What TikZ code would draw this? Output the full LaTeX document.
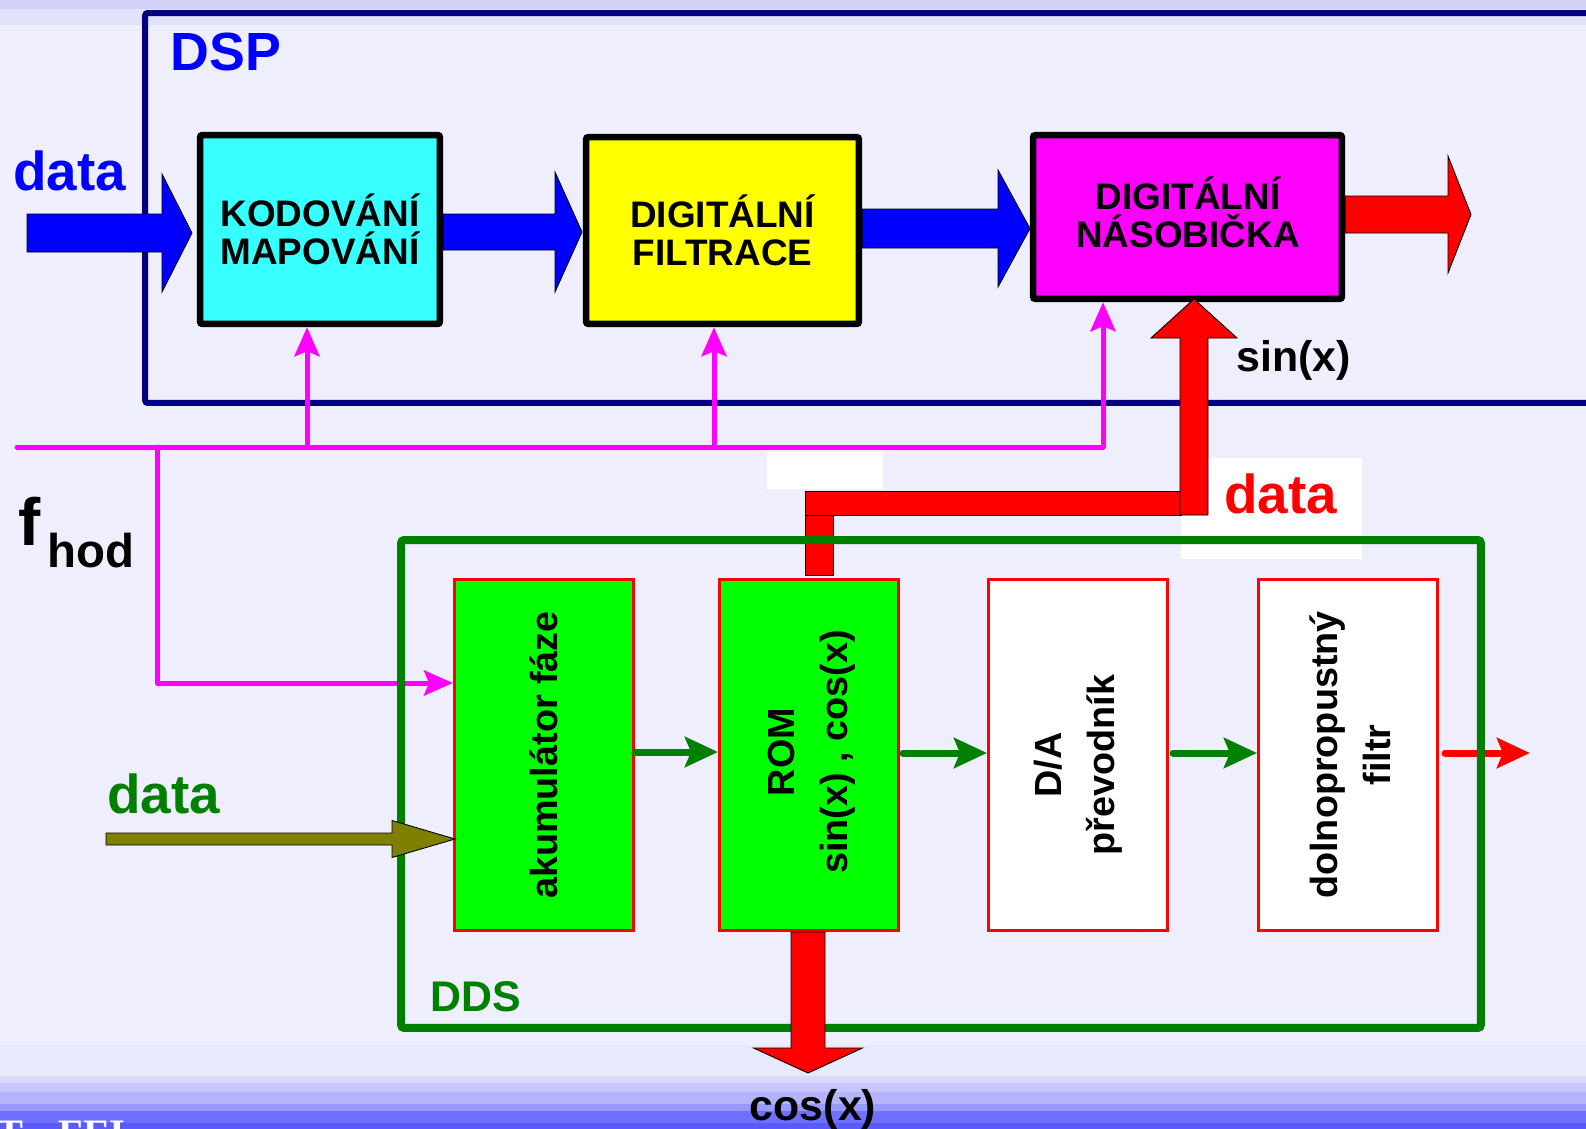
\documentclass[tikz,border=0pt]{standalone}
\usepackage{fontspec}
\setmainfont{Liberation Sans}
\newfontfamily\footserif{Liberation Serif}
\usetikzlibrary{arrows.meta,calc}
\definecolor{bgc}{HTML}{EEEEFC}
\definecolor{navyc}{HTML}{000080}
\definecolor{ddsgreen}{HTML}{008000}
\definecolor{cyanc}{HTML}{38FFFF}
\definecolor{limec}{HTML}{00FF00}
\definecolor{olivec}{HTML}{808000}
\definecolor{magc}{HTML}{FF00FF}
\definecolor{yelc}{HTML}{FFFF00}
\definecolor{redc}{HTML}{FF0000}
\definecolor{bluec}{HTML}{0000FF}
\newcommand\myfs[2]{\fontsize{#1pt}{#2pt}\selectfont}
% horizontal block arrow: start, tip, half shaft, half head, head length
\newcommand\harrow[5]{($(#1)+(0,-#3)$) -- ($(#2)+(-#5,-#3)$) -- ($(#2)+(-#5,-#4)$) -- (#2) -- ($(#2)+(-#5,#4)$) -- ($(#2)+(-#5,#3)$) -- ($(#1)+(0,#3)$) -- cycle}
% vertical block arrow: start, tip, half shaft, half head, signed head length
\newcommand\varrow[5]{($(#1)+(-#3,0)$) -- ($(#2)+(-#3,#5)$) -- ($(#2)+(-#4,#5)$) -- (#2) -- ($(#2)+(#4,#5)$) -- ($(#2)+(#3,#5)$) -- ($(#1)+(#3,0)$) -- cycle}
\tikzset{
  bigbox/.style={draw=black, line width=0.13cm, rounded corners=0.05cm, inner sep=0},
  ddsbox/.style={draw=redc, line width=0.06cm, inner sep=0, minimum width=3.58cm, minimum height=7.02cm},
  blockarr/.style={draw=black, line width=0.5pt},
  garrow/.style={draw=ddsgreen, line width=0.14cm, line cap=round, -{Stealth[length=0.66cm,width=0.6cm,inset=0.12cm]}},
  rarrow/.style={draw=redc, line width=0.14cm, line cap=round, -{Stealth[length=0.66cm,width=0.6cm,inset=0.12cm]}},
  clk/.style={draw=magc, line width=0.1cm, line cap=round, line join=round},
  clkarrow/.style={clk, -{Stealth[length=0.58cm,width=0.5cm,inset=0.1cm]}},
  lbl/.style={inner sep=0, anchor=base west, font=\bfseries\myfs{31.2}{36}},
  boxtext/.style={inner sep=0, align=center, font=\bfseries\myfs{21}{21.5}},
  rottext/.style={inner sep=0, align=center, rotate=90, font=\bfseries\myfs{21.5}{30}},
}
\begin{document}
\begin{tikzpicture}[x=0.02cm,y=-0.02cm]
\useasboundingbox (0,0) rectangle (1586,1129);
% background
\fill[bgc] (0,0) rectangle (1586,1129);
\fill[color={rgb,255:red,210;green,210;blue,248}] (0,0) rectangle (1586,9);
\fill[color={rgb,255:red,226;green,226;blue,250}] (0,9) rectangle (1586,25);
\fill[color={rgb,255:red,233;green,233;blue,252}] (0,1045) rectangle (1586,1076);
\fill[color={rgb,255:red,217;green,217;blue,252}] (0,1076) rectangle (1586,1083);
\fill[color={rgb,255:red,198;green,198;blue,252}] (0,1083) rectangle (1586,1092);
\fill[color={rgb,255:red,180;green,180;blue,252}] (0,1092) rectangle (1586,1104);
\fill[color={rgb,255:red,153;green,153;blue,255}] (0,1104) rectangle (1586,1111);
\fill[color={rgb,255:red,112;green,112;blue,255}] (0,1111) rectangle (1586,1123);
\fill[color={rgb,255:red,90;green,90;blue,255}] (0,1123) rectangle (1586,1129);
\node[inner sep=0, anchor=base west, text=white, font=\footserif\bfseries\myfs{23}{26}] (footT) at (-4,1147) {T};
\node[inner sep=0, anchor=base west, text=white, font=\footserif\bfseries\myfs{23}{26}] (footF) at (58,1147) {FEI};

% white patches
\fill[white] (767,452) rectangle (883,489);
\fill[white] (1181,458) rectangle (1362,559);

% DSP frame
\node[draw=navyc, line width=0.12cm, rounded corners=0.05cm, inner sep=0, minimum width=29.1cm, minimum height=7.8cm] (dsp) at (872.5,208) {};
\node[lbl, text=bluec, font=\bfseries\myfs{30.6}{34}] (dsplbl) at (170,71) {DSP};

% DSP blocks
\node[bigbox, fill=cyanc, minimum width=4.8cm, minimum height=3.78cm] (kod) at (320,229.5) {};
\node[bigbox, fill=yelc, minimum width=5.46cm, minimum height=3.74cm] (fil) at (722.5,230.5) {};
\node[bigbox, fill=magc, minimum width=6.18cm, minimum height=3.28cm] (nas) at (1187.5,217) {};
\node[boxtext] (kodt) at (kod.center) {KODOVÁNÍ\\MAPOVÁNÍ};
\node[boxtext] (filt) at (fil.center) {DIGITÁLNÍ\\FILTRACE};
\node[boxtext] (nast) at (1188,212) {DIGITÁLNÍ\\NÁSOBIČKA};

% blue block arrows
\coordinate (a1s) at (27,233);   \coordinate (a1t) at (192,233);
\coordinate (a2s) at (kod.east |- 0,232); \coordinate (a2t) at (582,232);
\coordinate (a3s) at (fil.east |- 0,228.5); \coordinate (a3t) at (1030,228.5);
\coordinate (a4s) at (nas.east |- 0,214.5); \coordinate (a4t) at (1471,214.5);
\filldraw[blockarr, fill=bluec] \harrow{a1s}{a1t}{19}{59}{30};
\filldraw[blockarr, fill=bluec] \harrow{a2s}{a2t}{18}{60}{27};
\filldraw[blockarr, fill=bluec] \harrow{a3s}{a3t}{19.5}{58.5}{32};
\filldraw[blockarr, fill=redc] \harrow{a4s}{a4t}{18.5}{58.5}{23};
\node[lbl, text=bluec] (datab) at (13,190) {data};

% clock distribution
\coordinate (c0) at (17,447);
\coordinate (c1) at (157,447);
\coordinate (c2) at (307,447);
\coordinate (c3) at (714,447);
\coordinate (c4) at (1103,447);
\coordinate (c5) at (157,683);
\draw[clk] (c0) -- (c4);
\draw[clkarrow] (c2) -- (c2 |- kod.south);
\draw[clkarrow] (c3) -- (c3 |- fil.south);
\draw[clkarrow] (c4) -- (c4 |- nas.south);
\node[inner sep=0, anchor=base west, font=\bfseries\myfs{38}{40}] (fl) at (18,545) {f};
\node[inner sep=0, anchor=base west, font=\bfseries\myfs{27}{30}] (hodl) at (47,567) {hod};

% red data connector (under DDS frame)
\filldraw[blockarr, fill=redc] (805,491) rectangle (833,575);
\filldraw[blockarr, fill=redc] (805,491) rectangle (1181,515);
\coordinate (ss) at (1194,515); \coordinate (st) at (1194,299);
\filldraw[blockarr, fill=redc] \varrow{ss}{st}{14}{43}{39};
\node[lbl, text=redc] (datar) at (1224,513) {data};
\node[inner sep=0, anchor=base west, font=\bfseries\myfs{24.4}{28}] (sinl) at (1236,371) {sin(x)};

% DDS blocks
\node[ddsbox, fill=limec] (ak) at (544,755) {};
\node[ddsbox, fill=limec] (rom) at (809,755) {};
\node[ddsbox, fill=white] (da) at (1078,755) {};
\node[ddsbox, fill=white] (lp) at (1348,755) {};
\node[rottext] (akt) at (ak.center) {akumulátor fáze};
\node[rottext] (romt) at (812,752) {ROM\\sin(x) , cos(x)};
\node[rottext] (dat) at (1078,765) {D/A\\převodník};
\node[rottext] (lpt) at (1350,755) {dolnopropustný\\filtr};

\draw[clkarrow] (c1) -- (c5) -- (c5 -| ak.west);

% internal arrows
\coordinate (g1) at (ak.east |- 0,752);
\coordinate (g2) at (903,753);
\coordinate (g3) at (1173,753);
\coordinate (g4) at (1445,753);
\coordinate (g5) at (1530,753);
\draw[garrow] (g1) -- (g1 -| rom.west);
\draw[garrow] (g2) -- (g2 -| da.west);
\draw[garrow] (g3) -- (g3 -| lp.west);
\draw[rarrow] (g4) -- (g5);

% DDS frame
\node[draw=ddsgreen, line width=0.16cm, rounded corners=0.06cm, inner sep=0, minimum width=21.6cm, minimum height=9.76cm] (dds) at (941,784) {};
\node[lbl, text=ddsgreen, font=\bfseries\myfs{24.4}{28}] (ddsl) at (430,1011) {DDS};

% olive data input
\coordinate (os) at (106,839); \coordinate (ot) at (455,839);
\filldraw[blockarr, fill=olivec] \harrow{os}{ot}{6}{18.5}{63};
\node[lbl, text=ddsgreen] (datag) at (107,813) {data};

% cos output
\coordinate (cs) at (808,932); \coordinate (ct) at (808,1073);
\filldraw[blockarr, fill=redc] \varrow{cs}{ct}{17}{54.5}{-25};
\node[inner sep=0, anchor=base, font=\bfseries\myfs{24.4}{28}] (cosl) at (813,1120) {cos(x)};
\end{tikzpicture}
\end{document}
